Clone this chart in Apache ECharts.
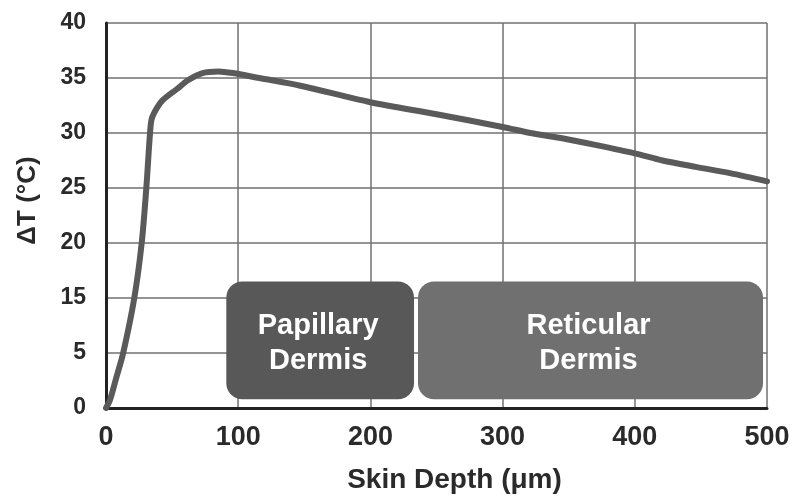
<!DOCTYPE html>
<html>
<head>
<meta charset="utf-8">
<script src="https://cdn.jsdelivr.net/npm/echarts@6/dist/echarts.min.js"></script>
<style>
  html, body { margin: 0; padding: 0; background: #fff; }
  #chart { width: 792px; height: 496px; }
</style>
</head>
<body>
<div id="chart"></div>
<script>
// ---- data ----
const depthUm = [0, 3, 7.3, 13, 21.4, 27, 30.5, 33.3, 34.6, 38.6, 43, 53.7, 62, 73, 85, 96, 116, 147, 200, 250, 300, 321, 346, 371, 400, 421, 447, 472, 500];
const deltaT  = [0, 0.73, 2.55, 5, 15, 20, 25, 30, 31.3, 32.3, 33, 34, 34.8, 35.45, 35.6, 35.45, 35.0, 34.3, 32.8, 31.7, 30.55, 30.0, 29.5, 28.9, 28.15, 27.5, 26.9, 26.35, 25.6];
const yTickLabels = [0, 5, 15, 20, 25, 30, 35, 40];
const xTickLabels = [0, 100, 200, 300, 400, 500];
const regionNames = ['Papillary\nDermis', 'Reticular\nDermis'];
const regionStart = [91, 236];
const regionEnd   = [233, 497];

// ---- tick-label scale (printed ticks are evenly spaced) ----
function toIdx(v) {
  for (let i = 0; i < yTickLabels.length - 1; i++) {
    const a = yTickLabels[i], b = yTickLabels[i + 1];
    if (v <= b) return i + (v - a) / (b - a);
  }
  return yTickLabels.length - 1;
}

const lineData = depthUm.map((x, i) => [x, toIdx(deltaT[i])]);
const regionData = regionNames.map((n, i) => [regionStart[i], regionEnd[i], n]);
const regionColors = ['#585858', '#707070'];
const BOX_TOP_T = 16.5, BOX_BOTTOM_T = 0.8;

const chart = echarts.init(document.getElementById('chart'), null, { renderer: 'canvas' });
const FONT = 'Liberation Sans, Arial, sans-serif';

chart.setOption({
  animation: false,
  backgroundColor: '#ffffff',
  grid: { left: 106, right: 25, top: 23, bottom: 88, containLabel: false, outerBoundsMode: 'none' },
  xAxis: {
    type: 'value', min: 0, max: 500, interval: 100,
    name: 'Skin Depth (\u03bcm)', nameLocation: 'middle', nameGap: 58,
    nameTextStyle: { fontFamily: FONT, fontWeight: 'bold', fontSize: 28, color: '#2a2a2a', padding: [0, 0, 0, 36] },
    axisLine: { show: true, lineStyle: { color: '#222', width: 3 } },
    axisTick: { show: false },
    axisLabel: { margin: 16, fontFamily: FONT, fontWeight: 'bold', fontSize: 27, color: '#2a2a2a',
      formatter: v => String(xTickLabels[Math.round(v / 100)]) },
    splitLine: { show: true, lineStyle: { color: '#707070', width: 1.5 } }
  },
  yAxis: {
    type: 'value', min: 0, max: 7, interval: 1,
    name: '\u0394T (\u00b0C)', nameLocation: 'middle', nameGap: 65, nameRotate: 90,
    nameTextStyle: { fontFamily: FONT, fontWeight: 'bold', fontSize: 26, color: '#2a2a2a', padding: [0, 0, 0, 30] },
    axisLine: { show: true, lineStyle: { color: '#222', width: 3 } },
    axisTick: { show: false },
    axisLabel: { margin: 20, fontFamily: FONT, fontWeight: 'bold', fontSize: 23, color: '#2a2a2a',
      formatter: v => String(yTickLabels[Math.round(v)]) },
    splitLine: { show: true, lineStyle: { color: '#707070', width: 1.5 } }
  },
  series: [
    {
      type: 'custom',
      data: regionData,
      encode: { x: [0, 1] },
      z: 3,
      renderItem: function (params, api) {
        const x0 = api.value(0), x1 = api.value(1);
        const p0 = api.coord([x0, toIdx(BOX_TOP_T)]);
        const p1 = api.coord([x1, toIdx(BOX_BOTTOM_T)]);
        const name = regionNames[params.dataIndex];
        return {
          type: 'group',
          children: [
            { type: 'rect',
              shape: { x: p0[0], y: p0[1], width: p1[0] - p0[0], height: p1[1] - p0[1], r: 16 },
              style: { fill: regionColors[params.dataIndex] } },
            { type: 'text',
              style: { text: name, x: (p0[0] + p1[0]) / 2 - 2, y: (p0[1] + p1[1]) / 2 + 3,
                align: 'center', verticalAlign: 'middle', textAlign: 'center', textVerticalAlign: 'middle',
                fill: '#ffffff', font: 'bold 29px ' + FONT, lineHeight: 35 } }
          ]
        };
      }
    },
    {
      type: 'line',
      data: lineData,
      smooth: 0.3,
      showSymbol: false,
      symbol: 'none',
      z: 4,
      lineStyle: { color: '#5a5a5a', width: 6, cap: 'round', join: 'round' }
    }
  ]
});
</script>
</body>
</html>
